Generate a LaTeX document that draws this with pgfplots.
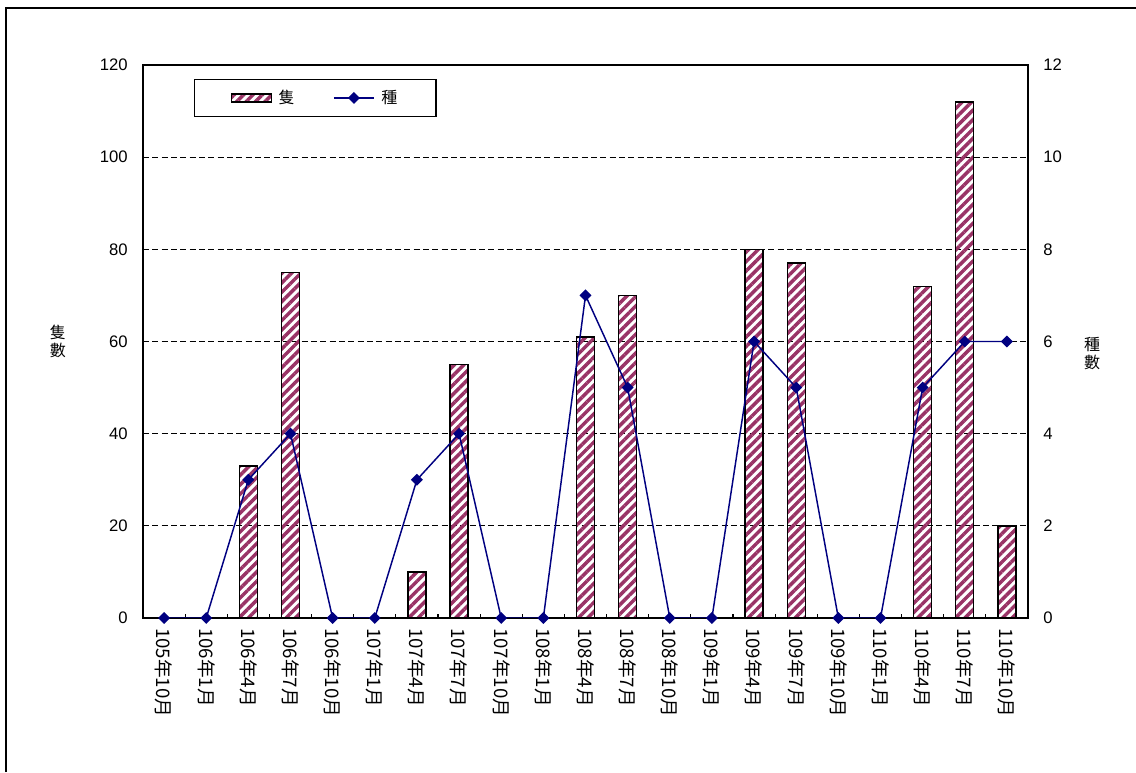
\documentclass[border=0pt]{standalone}
\usepackage{fontspec}
\setmainfont{Liberation Sans}
\newfontfamily\cjk{Noto Sans CJK TC}
\usepackage{pgfplots}
\pgfplotsset{compat=1.18}
\usetikzlibrary{patterns.meta}
\definecolor{plum}{RGB}{153,51,102}
\definecolor{navyline}{RGB}{0,0,128}

\pgfplotstableread{
idx cnt kinds
0   0   0
1   0   0
2   33  3
3   75  4
4   0   0
5   0   0
6   10  3
7   55  4
8   0   0
9   0   0
10  61  7
11  70  5
12  0   0
13  0   0
14  80  6
15  77  5
16  0   0
17  0   0
18  72  5
19  112 6
20  20  6
}\datatable

\tikzset{
  stripes/.style={
    pattern={Lines[angle=45, distance=5pt, line width=2.6pt]},
    pattern color=plum
  }
}
\pgfplotsset{
  linelegend/.style={
    legend image code/.code={\draw[mark repeat=2, mark phase=2, ##1] plot coordinates {(0pt,0pt) (15pt,0pt) (30pt,0pt)};}
  },
  barlegend/.style={
    legend image code/.code={\draw[stripes, draw=black, line width=1pt] (0pt,-3pt) rectangle (30pt,3pt);}
  }
}

\begin{document}
\begin{tikzpicture}
\path[use as bounding box] (0,0) rectangle (852pt,579pt);
% outer frame (only top and left visible)
\draw[line width=1.2pt] (4.5pt,0pt) -- (4.5pt,573pt) -- (852pt,573pt);

\pgfplotsset{
  common/.style={
    at={(107.25pt,115.5pt)}, anchor=south west,
    scale only axis, width=663.75pt, height=414.75pt,
    xmin=-0.5, xmax=20.5,
    tick label style={font=\fontsize{12.5}{14}\selectfont},
    /pgf/number format/assume math mode=true,
  }
}

\begin{axis}[
  common,
  ymin=0, ymax=120, ytick={0,20,...,120},
  axis line style={line width=1pt},
  ytick pos=left, ytick style={draw=none},
  xtick={0,...,20},
  xticklabels={105年10月,106年1月,106年4月,106年7月,106年10月,107年1月,107年4月,107年7月,107年10月,108年1月,108年4月,108年7月,108年10月,109年1月,109年4月,109年7月,109年10月,110年1月,110年4月,110年7月,110年10月},
  xticklabel style={rotate=-90, anchor=west, font=\cjk\fontsize{14}{15}\selectfont},
  xticklabel shift=4pt,
  major x tick style={draw=none},
  minor xtick={0.5,1.5,...,19.5},
  minor x tick style={black, line width=0.8pt},
  minor tick length=3pt,
  tick align=inside, xtick pos=lower,
  ymajorgrids, grid style={black, line width=0.8pt, dash pattern=on 4.5pt off 2.5pt},
  yticklabel style={xshift=-8pt},
  legend style={at={(0.0576,0.9747)}, anchor=north west, draw=black, line width=0.8pt,
    legend columns=2, font=\cjk\fontsize{12}{13}\selectfont,
    inner xsep=27pt, inner ysep=6pt,
    /tikz/every odd column/.append style={column sep=3pt},
    /tikz/every even column/.append style={column sep=27pt}},
]
\addplot[ybar, bar width=13.5pt, draw=black, line width=1pt, stripes, barlegend]
  table[x=idx, y=cnt] {\datatable};
\addlegendentry{隻}
\addlegendimage{navyline, line width=1.1pt, mark=square*, mark size=2.6pt, mark options={rotate=45, fill=navyline}, linelegend}
\addlegendentry{種}
\end{axis}

\begin{axis}[
  common,
  ymin=0, ymax=12, ytick={0,2,...,12},
  axis y line*=right, axis x line=none,
  ytick style={draw=none},
  axis line style={line width=1pt},
  yticklabel style={xshift=8pt},
]
\addplot[navyline, line width=1.1pt, mark=square*, mark size=2.6pt, mark options={rotate=45, fill=navyline}]
  table[x=idx, y=kinds] {\datatable};
\end{axis}

\node[align=center, font=\cjk\fontsize{12}{13.5}\selectfont] at (43.5pt,323.25pt) {隻\\數};
\node[align=center, font=\cjk\fontsize{12}{13.5}\selectfont] at (819pt,313.5pt) {種\\數};
\end{tikzpicture}
\end{document}
